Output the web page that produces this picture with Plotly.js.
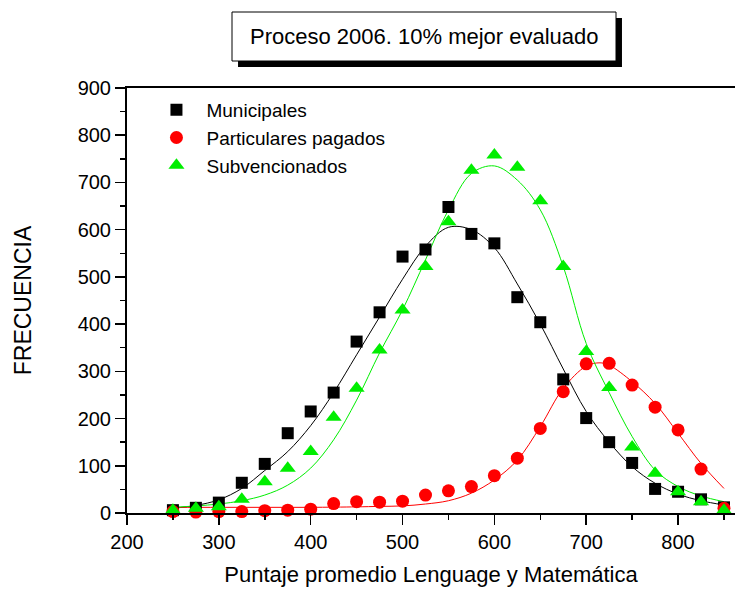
<!DOCTYPE html>
<html>
<head>
<meta charset="utf-8">
<script src="https://cdn.plot.ly/plotly-3.0.1.min.js"></script>
<style>html,body{margin:0;padding:0;background:#fff;}#chart{width:735px;height:590px;}</style>
</head>
<body>
<div id="chart"></div>
<script>
// Observed data (score bins)
var puntaje = [250,275,300,325,350,375,400,425,450,475,500,525,550,575,600,625,650,675,700,725,750,775,800,825,850];
var municipales = [6,11,22,64,104,169,215,255,363,425,543,558,648,591,571,457,404,283,201,150,106,51,45,29,12];
var particulares = [3,2,3,3,5,6,8,20,24,23,25,38,47,56,79,116,179,257,316,317,271,224,176,93,10];
var subvencionados = [6,10,13,29,66,95,130,203,264,345,430,522,617,726,758,732,661,522,342,266,140,84,45,24,6];

// Fitted curves, values
var fitX = [250,275,300,325,350,375,400,425,450,475,500,525,550,575,600,625,650,675,700,725,750,775,800,825,850];
var fitMunicipales = [10,16,28,52,90,130,185,255,335,415,495,565,605,600,562,485,400,305,215,150,98,63,40,26,17];
var fitSubvencionados = [12,15,19,26,38,59,95,155,239,339,430,536,642,719,735,705,642,522,359,255,162,91,56,36,24];
var fitXP = [250,300,350,400,450,475,500,525,550,575,600,625,650,675,700,715,725,750,775,800,825,850];
var fitParticulares = [12,12,12,12,13,14,15,19,26,42,70,112,183,264,311,318,313,278,232,169,105,52];

var names = ['Municipales','Particulares pagados','Subvencionados'];
var titleText = 'Proceso 2006. 10% mejor evaluado';
var xTitle = 'Puntaje promedio Lenguage y Matemática';
var yTitle = 'FRECUENCIA';

var FONT = 'Liberation Sans, Arial, sans-serif';

var traces = [
  {x: fitX, y: fitMunicipales, mode:'lines', line:{color:'#000000', width:1, shape:'spline', smoothing:1}, showlegend:false, hoverinfo:'skip'},
  {x: fitXP, y: fitParticulares, mode:'lines', line:{color:'#ff0000', width:1, shape:'spline', smoothing:1}, showlegend:false, hoverinfo:'skip'},
  {x: fitX, y: fitSubvencionados, mode:'lines', line:{color:'#00ee00', width:1, shape:'spline', smoothing:1}, showlegend:false, hoverinfo:'skip'},
  {x: puntaje, y: municipales, name: names[0], mode:'markers', cliponaxis:false,
   marker:{symbol:'square', size:12, color:'#000000'}},
  {x: puntaje, y: particulares, name: names[1], mode:'markers', cliponaxis:false,
   marker:{symbol:'circle', size:13, color:'#ff0000'}},
  {x: puntaje, y: subvencionados, name: names[2], mode:'markers', cliponaxis:false,
   marker:{symbol:'triangle-up', size:14, color:'#00ee00'}}
];

var layout = {
  width:735, height:590,
  margin:{l:127, r:0, t:88, b:77, pad:0},
  paper_bgcolor:'#ffffff', plot_bgcolor:'#ffffff',
  font:{family:FONT, color:'#000000', size:20},
  showlegend:true,
  legend:{x:0.032, y:0.993, xanchor:'left', yanchor:'top', bgcolor:'rgba(0,0,0,0)',
          font:{family:FONT, size:19, color:'#000'}, itemwidth:50, tracegroupgap:0},
  xaxis:{range:[200,862], tick0:200, dtick:100, ticks:'outside', ticklen:10, tickwidth:1.5, tickcolor:'#000',
         showline:true, linewidth:2, linecolor:'#000', mirror:true, showgrid:false, zeroline:false,
         tickfont:{family:FONT, size:20}, automargin:false,
         minor:{dtick:50, tick0:200, ticks:'outside', ticklen:5, tickwidth:1.5, tickcolor:'#000', showgrid:false},
         title:{text:xTitle, font:{family:FONT, size:22}, standoff:15}},
  yaxis:{range:[0,900], tick0:0, dtick:100, ticks:'outside', ticklen:10, tickwidth:1.5, tickcolor:'#000',
         showline:true, linewidth:2, linecolor:'#000', mirror:false, showgrid:false, zeroline:false,
         tickfont:{family:FONT, size:20}, automargin:false,
         minor:{dtick:50, tick0:0, ticks:'outside', ticklen:5, tickwidth:1.5, tickcolor:'#000', showgrid:false},
         title:{text:yTitle, font:{family:FONT, size:23}, standoff:40}},
  shapes:[
    {type:'rect', xref:'paper', yref:'paper', x0:0.1826, x1:0.8141, y0:1.0494, y1:1.1647,
     fillcolor:'#000', line:{width:0}, layer:'above'},
    {type:'rect', xref:'paper', yref:'paper', x0:0.1727, x1:0.8043, y0:1.0635, y1:1.1788,
     fillcolor:'#fff', line:{width:1, color:'#000'}, layer:'above'}
  ],
  annotations:[
    {text:titleText, xref:'paper', yref:'paper', x:0.4885, y:1.121, xanchor:'center', yanchor:'middle',
     showarrow:false, font:{family:FONT, size:22, color:'#000'}}
  ]
};

Plotly.newPlot('chart', traces, layout, {displayModeBar:false, staticPlot:true});
</script>
</body>
</html>
